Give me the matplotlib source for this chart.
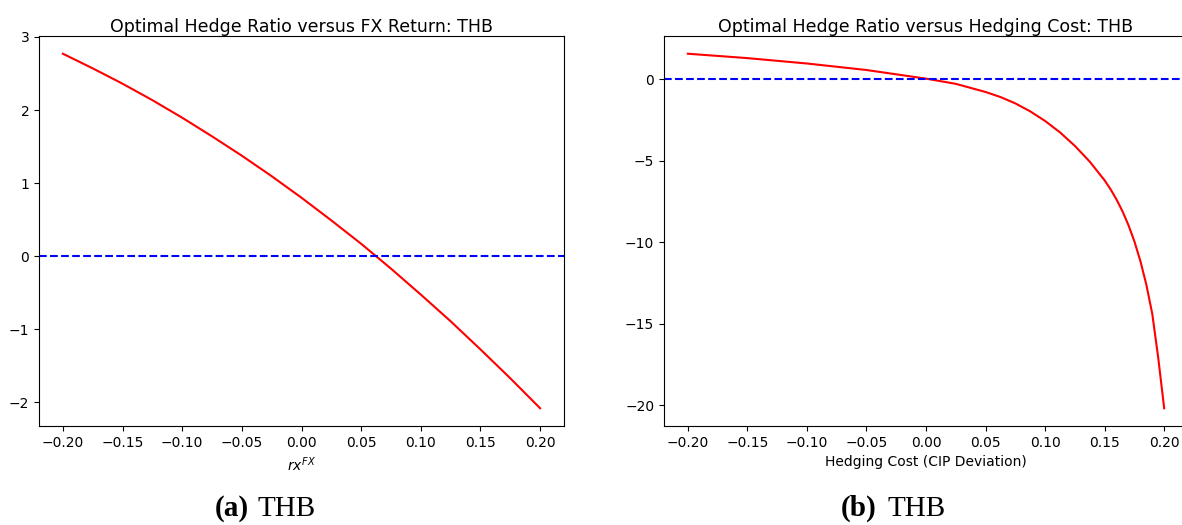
import matplotlib
matplotlib.use("Agg")
import matplotlib.pyplot as plt

# Panel (a): optimal hedge ratio vs FX return
fx_return = [-0.200, -0.175, -0.150, -0.125, -0.100, -0.075, -0.050, -0.025, 0.000,
             0.025, 0.050, 0.075, 0.100, 0.125, 0.150, 0.175, 0.200]
hedge_vs_fx = [2.770, 2.570, 2.360, 2.135, 1.895, 1.640, 1.375, 1.095, 0.800,
               0.490, 0.170, -0.170, -0.525, -0.890, -1.275, -1.670, -2.080]

# Panel (b): optimal hedge ratio vs hedging cost
hedge_cost = [-0.200, -0.150, -0.100, -0.050, 0.000, 0.025, 0.050, 0.0625, 0.075,
              0.0875, 0.100, 0.1125, 0.125, 0.1375, 0.150, 0.155, 0.160, 0.165,
              0.170, 0.175, 0.180, 0.185, 0.190, 0.195, 0.200]
hedge_vs_cost = [1.58, 1.31, 0.98, 0.58, 0.05, -0.27, -0.77, -1.08, -1.47,
                 -1.96, -2.55, -3.25, -4.08, -5.05, -6.20, -6.75, -7.38, -8.10,
                 -8.95, -9.95, -11.15, -12.60, -14.40, -17.10, -20.20]

titles = ["Optimal Hedge Ratio versus FX Return: THB",
          "Optimal Hedge Ratio versus Hedging Cost: THB"]
xlabels = ["$rx^{FX}$", "Hedging Cost (CIP Deviation)"]
xticks = [-0.20, -0.15, -0.10, -0.05, 0.00, 0.05, 0.10, 0.15, 0.20]
captions = [("(a)", "THB"), ("(b)", "THB")]

W, H = 1182, 525
fig = plt.figure(figsize=(W / 100, H / 100), dpi=100)

ax1 = fig.add_axes([39 / W, (H - 426) / H, (564 - 39) / W, 390 / H])
ax2 = fig.add_axes([664 / W, (H - 426) / H, (1188 - 664) / W, 390 / H])

for ax, xs, ys, title, xl in [(ax1, fx_return, hedge_vs_fx, titles[0], xlabels[0]),
                              (ax2, hedge_cost, hedge_vs_cost, titles[1], xlabels[1])]:
    ax.plot(xs, ys, color="red", lw=1.5)
    ax.axhline(0, color="blue", lw=1.5, ls="--")
    ax.set_title(title, fontsize=12.5, pad=3)
    ax.set_xlabel(xl, fontsize=10)
    ax.tick_params(labelsize=10)
    ax.set_xticks(xticks)
    ax.set_xlim(-0.22, 0.22)

ax1.set_yticks([-2, -1, 0, 1, 2, 3])
ax2.set_yticks([-20, -15, -10, -5, 0])
ax2.spines["right"].set_visible(False)

# subfigure captions
for (lab_right, name_left), (lab, name) in zip([(249, 257), (877, 888)], captions):
    y = (H - 516) / H
    fig.text(lab_right / W, y, lab, ha="right", va="baseline",
             fontsize=21, fontweight="bold", family="Liberation Serif")
    fig.text(name_left / W, y, name, ha="left", va="baseline",
             fontsize=21, family="Liberation Serif")

fig.savefig("out.png", dpi=100)
